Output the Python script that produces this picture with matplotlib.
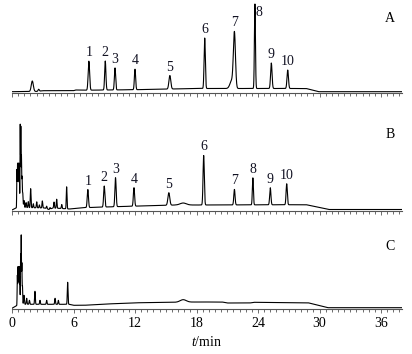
import matplotlib
matplotlib.use("Agg")
import matplotlib.pyplot as plt
import numpy as np
from matplotlib.ticker import MultipleLocator

plt.rcParams["font.family"] = ["Liberation Serif", "DejaVu Serif"]
plt.rcParams["mathtext.fontset"] = "custom"
plt.rcParams["mathtext.it"] = "Liberation Serif:italic"
plt.rcParams["mathtext.rm"] = "Liberation Serif"

# ---- data (time in min, signal in arbitrary units) ----
# Panel A: standard mixture
a_base_t = [0.0, 2.5, 3.0, 6.0, 6.2, 6.9, 7.2, 12.0, 18.0, 28.7, 29.9, 38.0]
a_base_y = [1.0, 1.3, 2.0, 2.0, 2.7, 2.7, 2.5, 3.0, 4.2, 4.2, 1.0, 1.0]
a_peak_t = [1.98, 2.6, 7.5, 9.1, 10.05, 12.0, 15.4, 18.8, 21.45, 21.7, 23.7, 25.3, 26.9]
a_peak_h = [10.5, 2.0, 29.0, 29.0, 22.0, 20.5, 13.5, 50.5, 8.0, 54.0, 84.5, 25.5, 18.5]
a_peak_w = [0.10, 0.06, 0.07, 0.06, 0.06, 0.06, 0.09, 0.06, 0.18, 0.10, 0.05, 0.07, 0.07]
a_label_t = [7.5, 9.1, 10.05, 12.0, 15.4, 18.8, 21.7, 23.7, 25.3, 26.9]
a_labels = ["1", "2", "3", "4", "5", "6", "7", "8", "9", "10"]

# Panel B: sample
b_base_t = [0.0, 0.4, 1.0, 3.2, 3.6, 4.0, 5.6, 7.0, 10.0, 16.0, 18.0, 28.7, 30.9, 38.0]
b_base_y = [1.0, 3.0, 3.5, 3.0, 1.5, 3.0, 2.0, 3.3, 4.3, 6.0, 6.0, 6.3, 1.5, 1.5]
b_peak_t = [0.48, 0.54, 0.6, 0.66, 0.72, 0.8, 0.86, 0.92, 0.98, 1.05, 1.17, 1.37, 1.59,
            1.82, 2.08, 2.41, 2.67, 2.96, 3.38, 3.71, 4.10, 4.36, 4.85, 5.33,
            7.4, 9.0, 10.1, 11.9, 15.3, 16.7, 18.7, 21.7, 23.5, 25.2, 26.8]
b_peak_h = [38.0, 44.0, 40.0, 44.0, 36.0, 83.0, 80.0, 50.0, 30.0, 14.0, 7.0, 5.0, 6.0,
            19.0, 4.0, 6.0, 3.0, 7.0, 2.5, 1.5, 6.0, 9.0, 4.0, 22.0,
            18.0, 21.0, 29.0, 18.5, 12.5, 2.0, 49.5, 15.5, 27.0, 17.0, 21.0]
b_peak_w = [0.02, 0.02, 0.02, 0.02, 0.02, 0.02, 0.02, 0.02, 0.025, 0.03, 0.035, 0.035,
            0.035, 0.035, 0.035, 0.035, 0.035, 0.035, 0.035, 0.035, 0.035, 0.035, 0.035,
            0.035, 0.06, 0.06, 0.06, 0.06, 0.09, 0.30, 0.06, 0.06, 0.05, 0.06, 0.06]
b_label_t = [7.4, 9.0, 10.1, 11.9, 15.3, 18.7, 21.7, 23.5, 25.2, 26.8]
b_labels = ["1", "2", "3", "4", "5", "6", "7", "8", "9", "10"]

# Panel C: blank
c_base_t = [0.0, 0.4, 1.0, 5.6, 6.0, 7.0, 9.0, 12.0, 18.0, 20.5, 21.0, 23.2, 23.6, 28.9, 30.8, 38.0]
c_base_y = [1.0, 3.5, 5.0, 5.0, 4.0, 4.0, 5.2, 6.5, 7.3, 7.3, 6.3, 6.3, 7.0, 6.5, 1.6, 1.6]
c_peak_t = [0.52, 0.58, 0.64, 0.7, 0.76, 0.84, 0.9, 0.96, 1.02, 1.17, 1.43, 1.7, 2.24,
            2.73, 3.38, 4.2, 4.52, 5.43, 16.7]
c_peak_h = [30.0, 38.0, 34.0, 38.0, 28.0, 50.0, 69.0, 40.0, 18.0, 9.0, 6.0, 4.0, 13.0,
            4.0, 4.0, 6.0, 4.0, 22.0, 2.5]
c_peak_w = [0.02, 0.02, 0.02, 0.02, 0.02, 0.02, 0.02, 0.02, 0.025, 0.035, 0.035, 0.035,
            0.035, 0.035, 0.035, 0.035, 0.035, 0.035, 0.30]

panels = [
    ("A", a_base_t, a_base_y, a_peak_t, a_peak_h, a_peak_w, a_label_t, a_labels),
    ("B", b_base_t, b_base_y, b_peak_t, b_peak_h, b_peak_w, b_label_t, b_labels),
    ("C", c_base_t, c_base_y, c_peak_t, c_peak_h, c_peak_w, [], []),
]


def trace(t, base_t, base_y, pk_t, pk_h, pk_w):
    y = np.interp(t, base_t, base_y)
    for c, h, w in zip(pk_t, pk_h, pk_w):
        y = y + h * np.exp(-0.5 * ((t - c) / w) ** 2)
    return y


W, H = 412, 354
fig = plt.figure(figsize=(W / 100, H / 100), dpi=100)

# axis line y (px from top) and panel height (px) for each chromatogram
rows = [(92.7, 90), (211.0, 91), (309.3, 78)]
t = np.linspace(0, 38, 8000)
x0, x1 = 12, 401.5

for (name, bt, by, pt, ph, pw, lt, labs), (axis_y, h_px), label_y in zip(
        panels, rows, [19, 135, 247]):
    ax = fig.add_axes([x0 / W, 1 - axis_y / H, (x1 - x0) / W, h_px / H])
    y = trace(t, bt, by, pt, ph, pw)
    ax.plot(t, y, color="black", lw=0.8)
    ax.set_xlim(0, 38)
    ax.set_ylim(0, h_px)
    for s in ("top", "right", "left"):
        ax.spines[s].set_visible(False)
    ax.spines["bottom"].set_color("#555555")
    ax.spines["bottom"].set_linewidth(0.8)
    ax.set_yticks([])
    ax.xaxis.set_major_locator(MultipleLocator(6))
    ax.xaxis.set_minor_locator(MultipleLocator(0.6))
    ax.tick_params(axis="x", which="major", direction="out", length=3, width=0.6,
                   color="#555555", labelsize=10, pad=2.5)
    ax.tick_params(axis="x", which="minor", direction="out", length=2.5, width=0.6,
                   color="#555555")
    if name != "C":
        ax.tick_params(axis="x", labelbottom=False)
    else:
        ax.set_xticks([0, 6, 12, 18, 24, 30, 36])

    for ct, lab in zip(lt, labs):
        top = trace(np.array([ct]), bt, by, pt, ph, pw)[0]
        off = (0, 8.5)
        if name == "A" and lab == "8":
            # label sits beside the tallest peak
            top, off = top - 18, (4, 9)
        ax.annotate(lab, (ct, top), xytext=off, textcoords="offset pixels",
                    ha="center", va="center", fontsize=10, color="#111122",
                    annotation_clip=False)

    fig.text(390 / W, 1 - label_y / H, name, ha="center", va="center", fontsize=10)

fig.text(206.7 / W, 1 - 341.7 / H, r"$t$/min", ha="center", va="center", fontsize=10)

fig.savefig("out.png", dpi=100)
